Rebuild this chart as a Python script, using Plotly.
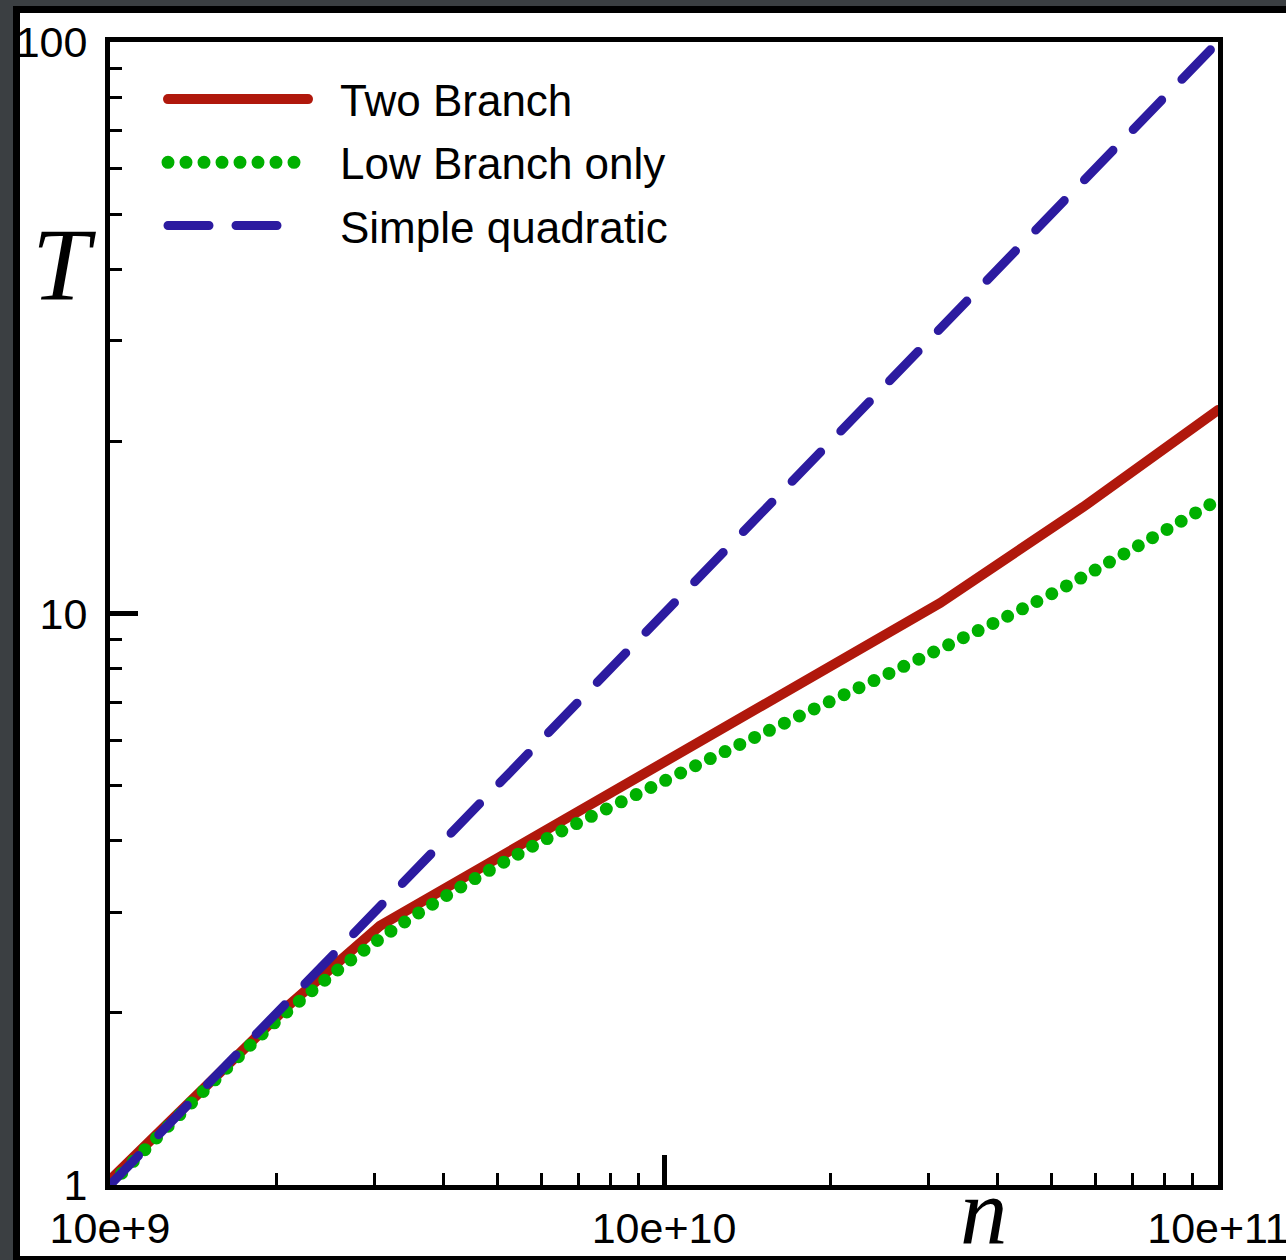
import plotly.graph_objects as go

# ---- data ----
n_two = [1e9, 2.11e9, 3.07e9, 3.15e10, 5.71e10, 1e11]
T_two = [1.02, 2.07, 2.84, 10.43, 15.36, 22.7]

n_low = [1e9, 1.47e9, 2.05e9, 3.11e9, 5.50e9, 1e10, 1.74e10, 3.15e10, 5.04e10, 1e11]
T_low = [1.0, 1.455, 1.98, 2.72, 3.81, 5.09, 6.59, 8.67, 10.86, 15.8]

n_quad = [1e9, 1e10, 1e11]
T_quad = [1.0, 10.0, 100.0]

x_tickvals = [1e9, 1e10, 1e11]
x_ticktext = ["10e+9", "10e+10", "10e+11"]
y_tickvals = [1, 10, 100]
y_ticktext = ["1", "10", "100"]

names = ["Two Branch", "Low Branch only", "Simple quadratic"]

W, H = 1286, 1260
L, R, T, B = 110, 1218, 42, 1185

def px(xp):
    return (xp - L) / (R - L)

def py(yp):
    return (B - yp) / (B - T)

FONT = "Liberation Sans, Arial, Helvetica, sans-serif"

fig = go.Figure()
fig.add_trace(go.Scatter(x=n_two, y=T_two, mode="lines", name=names[0],
                         legendgroup="a",
                         line=dict(color="#b0180c", width=10)))
fig.add_trace(go.Scatter(x=n_low, y=T_low, mode="lines", name=names[1],
                         legendgroup="b",
                         line=dict(color="#00b000", width=13, dash="0px,16.5px", shape="spline")))
fig.add_trace(go.Scatter(x=n_quad, y=T_quad, mode="lines", name=names[2],
                         legendgroup="c",
                         line=dict(color="#2c1ba0", width=9, dash="41px,29px")))

axis_common = dict(
    type="log", showline=True, linecolor="black", linewidth=5, mirror=True,
    showgrid=False, zeroline=False, ticks="inside", tickcolor="black",
    automargin=False, ticklabeloverflow="allow",
    tickfont=dict(family=FONT, size=43, color="black"),
)

fig.update_xaxes(**axis_common, range=[9, 11], tickvals=x_tickvals, ticktext=x_ticktext,
                 ticklen=30, tickwidth=5, ticklabelstandoff=1,
                 minor=dict(ticks="inside", ticklen=12, tickwidth=3, tickcolor="black", dtick="D1"))
fig.update_yaxes(**axis_common, range=[0, 2], tickvals=y_tickvals, ticktext=y_ticktext,
                 ticklen=28, tickwidth=5, ticklabelstandoff=9,
                 minor=dict(ticks="inside", ticklen=12, tickwidth=3, tickcolor="black", dtick="D1"))

fig.update_layout(
    width=W, height=H,
    margin=dict(l=L, r=W - R, t=T, b=H - B, autoexpand=False),
    paper_bgcolor="#3b3f42",
    plot_bgcolor="white",
    showlegend=True,
    legend=dict(x=px(160), y=py(64), xanchor="left", yanchor="top",
                bgcolor="rgba(0,0,0,0)", borderwidth=0,
                font=dict(family=FONT, size=44, color="black"),
                itemwidth=170, tracegroupgap=3, traceorder="grouped"),
    shapes=[dict(type="rect", xref="paper", yref="paper",
                 x0=px(16.5), x1=px(1320), y0=py(9.5), y1=py(1259.5),
                 fillcolor="white", line=dict(color="black", width=7), layer="below")],
    annotations=[
        dict(text="<i>T</i>", xref="paper", yref="paper", x=px(64), y=py(264),
             showarrow=False, xanchor="center", yanchor="middle",
             font=dict(family="Liberation Serif, Times New Roman, serif", size=104, color="black")),
        dict(text="<i>n</i>", xref="paper", yref="paper", x=px(984), y=py(1212),
             showarrow=False, xanchor="center", yanchor="middle",
             font=dict(family="Liberation Serif, Times New Roman, serif", size=95, color="black")),
    ],
)

post = """
var gd = document.getElementById('{plot_id}');
var legW = [10, 13, 9];
var legDash = ['', '0px,18px', '41px,27px'];
var legLen = [140, 130, 110];
function fixStyle(){
  gd.querySelectorAll('path.js-line').forEach(function(p){
    p.style.strokeLinecap = 'round';
  });
  var groups = gd.querySelectorAll('.legend .traces');
  for (var i = 0; i < groups.length; i++) {
    var paths = groups[i].querySelectorAll('.legendlines path');
    for (var k = 0; k < paths.length; k++) {
      var p = paths[k];
      p.style.strokeLinecap = 'round';
      if (i < legW.length) {
        p.style.strokeWidth = legW[i] + 'px';
        p.style.strokeDasharray = legDash[i];
      }
      if (p.getAttribute('data-fixed') !== '1') {
        try {
          var pt = p.getPointAtLength(0);
          var len = i < legLen.length ? legLen[i] : 140;
          p.setAttribute('d', 'M' + (pt.x + 3) + ',' + pt.y + 'h' + len);
          p.setAttribute('data-fixed', '1');
        } catch (e) {}
      }
    }
  }
}
fixStyle();
gd.on('plotly_afterplot', fixStyle);
"""

fig.write_html("out.html", post_script=post)
